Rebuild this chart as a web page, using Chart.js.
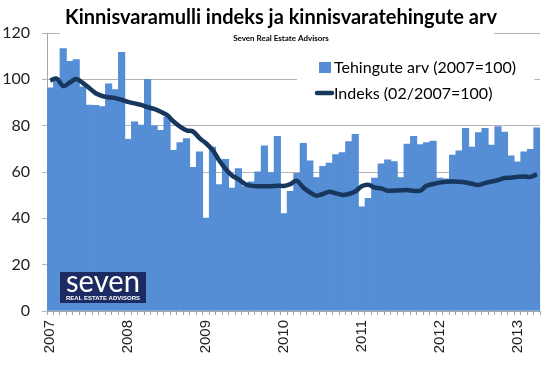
<!DOCTYPE html>
<html>
<head>
<meta charset="utf-8">
<script src="https://cdn.jsdelivr.net/npm/chart.js@4.4.0/dist/chart.umd.min.js"></script>
<style>
html, body { margin: 0; padding: 0; background: #fff; }
#wrap { width: 560px; height: 366px; position: relative; }
</style>
</head>
<body>
<div id="wrap"><canvas id="chart" width="560" height="366"></canvas></div>
<script>
// ======================================
// ANDMED
// ======================================

const aastad = ["2007", "2008", "2009", "2010", "2011", "2012", "2013"];

// kuud 01/2007 ... 04/2013
const kuud = [];
aastad.forEach(a => {
    for (let k = 1; k <= 12; k++) {
        if (a === "2013" && k > 4) break;
        kuud.push(String(k).padStart(2, "0") + "/" + a);
    }
});

// Tehingute arv (2007=100)
const tehingud = [
    96.3, 99.5, 113.3, 107.8, 108.5, 96.8, 88.9, 88.8, 88.2, 98.1, 95.6, 111.7,
    74.1, 81.7, 80.2, 100.0, 79.9, 78.0, 83.7, 69.4, 72.7, 74.4, 62.0, 68.7,
    40.1, 70.8, 54.6, 65.5, 53.1, 61.5, 53.7, 55.8, 60.1, 71.3, 59.8, 75.4,
    42.0, 51.7, 59.4, 72.4, 64.8, 57.6, 62.5, 63.8, 67.5, 68.4, 73.1, 76.3,
    45.0, 48.6, 57.4, 63.5, 65.2, 64.5, 57.6, 72.0, 75.4, 71.8, 72.7, 73.3,
    57.4, 57.0, 67.3, 69.1, 78.9, 70.8, 77.0, 78.9, 71.6, 79.6, 77.2, 67.0,
    64.4, 68.7, 69.8, 79.1
];

// Indeks (02/2007=100)
const indeks = [
    99.5, 100.3, 97.1, 98.6, 100.1, 98.5, 96.3, 94.0, 92.8, 92.3, 91.9, 91.2,
    90.3, 89.6, 89.0, 88.0, 87.2, 86.0, 84.6, 81.8, 79.6, 78.0, 77.5, 74.6,
    72.4, 69.5, 65.2, 61.4, 58.5, 56.9, 54.8, 54.0, 53.8, 53.9, 53.8, 54.1,
    54.0, 54.8, 56.2, 53.3, 51.2, 49.8, 50.5, 51.5, 50.8, 50.1, 50.5, 51.6,
    53.8, 54.5, 53.3, 52.9, 51.9, 52.0, 52.1, 52.2, 51.9, 51.9, 54.1, 54.8,
    55.4, 55.8, 55.9, 55.8, 55.5, 54.9, 54.4, 55.2, 55.9, 56.5, 57.4, 57.5,
    57.9, 58.1, 57.9, 59.1
];

const yTicks = [0, 20, 40, 60, 80, 100, 120];

const pealkiri = "Kinnisvaramulli indeks ja kinnisvaratehingute arv";
const alapealkiri = "Seven Real Estate Advisors";

const SININE = "#558ed5";
const TUMESININE = "#17375e";


// ======================================
// ABI: tekst kindla laiusega
// ======================================

function tekst(ctx, s, x, y, laius, venita) {
    const w = ctx.measureText(s).width;
    ctx.save();
    ctx.translate(x, y);
    if (laius && w > 0 && (venita || w > laius)) ctx.scale(laius / w, 1);
    ctx.fillText(s, 0, 0);
    ctx.restore();
}


// ======================================
// PEALKIRI, LEGEND, LOGO
// ======================================

const kujundus = {
    id: "kujundus",
    afterDraw(chart) {
        const ctx = chart.ctx;
        const area = chart.chartArea;
        ctx.save();
        ctx.textBaseline = "alphabetic";
        ctx.textAlign = "left";

        // pealkirja kast
        ctx.fillStyle = "#fff";
        ctx.fillRect(60, 0, 434, 45);
        ctx.fillStyle = "#000";
        ctx.font = "bold 21px Lato";
        tekst(ctx, pealkiri, 281 - 216, 24, 432);
        ctx.font = "bold 8px Lato";
        const w2 = Math.min(ctx.measureText(alapealkiri).width, 102);
        tekst(ctx, alapealkiri, 281 - w2 / 2, 41, 102);

        // legend
        ctx.fillStyle = "#fff";
        ctx.fillRect(297, 50, area.right - 6 - 297, 60);
        ctx.fillStyle = SININE;
        ctx.fillRect(319, 62, 12, 11);
        ctx.strokeStyle = TUMESININE;
        ctx.lineWidth = 4.5;
        ctx.lineCap = "round";
        ctx.beginPath();
        ctx.moveTo(317, 93);
        ctx.lineTo(332, 93);
        ctx.stroke();
        ctx.fillStyle = "#000";
        ctx.font = "16px Lato";
        tekst(ctx, chart.data.datasets[1].label, 334, 73, 191);
        tekst(ctx, chart.data.datasets[0].label, 334, 99, 163);

        // logo
        ctx.fillStyle = "#1d2b63";
        ctx.fillRect(60, 272, 86, 31);
        ctx.fillStyle = "#fff";
        ctx.font = "30px Lato";
        tekst(ctx, "seven", 66, 292, 74, true);
        ctx.font = "bold 6px 'Liberation Sans'";
        tekst(ctx, "REAL ESTATE ADVISORS", 66, 300, 74, true);

        ctx.restore();
    }
};


// ======================================
// GRAAFIK
// ======================================

new Chart(document.getElementById("chart"), {

    type: "bar",

    data: {
        labels: kuud,
        datasets: [
            {
                type: "line",
                label: "Indeks (02/2007=100)",
                data: indeks,
                borderColor: TUMESININE,
                borderWidth: 4.5,
                pointRadius: 0,
                tension: 0.35,
                order: 0
            },
            {
                type: "bar",
                label: "Tehingute arv (2007=100)",
                data: tehingud,
                backgroundColor: SININE,
                borderWidth: 0,
                categoryPercentage: 1,
                barPercentage: 1,
                order: 1
            }
        ]
    },

    options: {
        responsive: false,
        animation: false,
        devicePixelRatio: 1,
        layout: { padding: { top: 33, right: 9, left: 0, bottom: 0 } },
        plugins: {
            legend: { display: false },
            title: { display: false },
            tooltip: { enabled: false }
        },
        scales: {
            x: {
                offset: true,
                grid: {
                    display: true,
                    drawOnChartArea: false,
                    drawTicks: true,
                    tickLength: 4,
                    color: "#a6a6a6",
                    offset: true
                },
                border: { color: "#a6a6a6" },
                ticks: {
                    autoSkip: false,
                    minRotation: 90,
                    maxRotation: 90,
                    padding: 5,
                    color: "#222",
                    font: { family: "'Liberation Sans'", size: 15 },
                    callback: (v, i) => i % 12 === 0 ? aastad[i / 12] : ""
                },
                afterFit: s => { s.height = 55; }
            },
            y: {
                min: 0,
                max: 120,
                afterBuildTicks: s => { s.ticks = yTicks.map(v => ({ value: v })); },
                ticks: {
                    padding: 12,
                    color: "#222",
                    font: { family: "Lato", size: 16 }
                },
                grid: { color: "#b4b4b4", tickLength: 5 },
                border: { color: "#a6a6a6" },
                afterFit: s => { s.width = 47; }
            }
        }
    },

    plugins: [kujundus]

});
</script>
</body>
</html>
